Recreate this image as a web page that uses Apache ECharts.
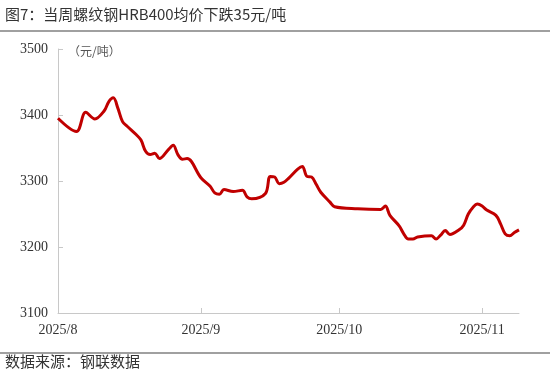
<!DOCTYPE html>
<html><head><meta charset="utf-8">
<script src="https://cdn.jsdelivr.net/npm/echarts@6/dist/echarts.min.js"></script>
<style>html,body{margin:0;padding:0;background:#fff}#c{width:550px;height:381px}</style>
</head><body><div id="c"></div>
<script>
const dates = ['2025-08-01','2025-08-05','2025-08-07','2025-08-09','2025-08-11','2025-08-12','2025-08-13','2025-08-14','2025-08-15','2025-08-16','2025-08-18','2025-08-19','2025-08-20','2025-08-21','2025-08-22','2025-08-23','2025-08-25','2025-08-26','2025-08-27','2025-08-28','2025-08-29',
'2025-09-01','2025-09-03','2025-09-04','2025-09-05','2025-09-06','2025-09-08','2025-09-10','2025-09-11','2025-09-12','2025-09-15','2025-09-16','2025-09-17','2025-09-18','2025-09-19','2025-09-20','2025-09-22','2025-09-23','2025-09-24','2025-09-25','2025-09-26','2025-09-27','2025-09-29','2025-09-30',
'2025-10-05','2025-10-10','2025-10-11','2025-10-12','2025-10-14','2025-10-15','2025-10-16','2025-10-17','2025-10-18','2025-10-21','2025-10-22','2025-10-23','2025-10-24','2025-10-25','2025-10-27','2025-10-28','2025-10-29','2025-10-30','2025-10-31',
'2025-11-01','2025-11-02','2025-11-04','2025-11-05','2025-11-06','2025-11-07','2025-11-08','2025-11-09'];
const prices = [3395,3375,3404,3394,3406,3420,3426,3410,3390,3383,3370,3362,3345,3340,3342,3334,3348,3354,3340,3333,3334,
3305,3292,3282,3280,3287,3284,3286,3276,3273,3281,3307,3306,3296,3298,3304,3318,3322,3307,3306,3295,3283,3268,3261,
3258,3257,3262,3248,3232,3220,3212,3212,3215,3217,3212,3218,3225,3219,3226,3233,3250,3260,3265,
3262,3256,3248,3235,3220,3217,3222,3226];
const monthTicks = ['2025-08-01','2025-09-01','2025-10-01','2025-11-01'];
const yMin = 3100, yMax = 3500, yStep = 100;
const titleText = '图7：当周螺纹钢HRB400均价下跌35元/吨';
const unitText = '（元/吨）';
const sourceText = '数据来源：钢联数据';

const ts = s => Date.UTC(+s.slice(0,4), +s.slice(5,7) - 1, +s.slice(8,10));
const tickVals = monthTicks.map(ts);
const chart = echarts.init(document.getElementById('c'));
const serif = '"Liberation Serif","Times New Roman",serif';
const cjk = '"Noto Sans CJK SC",sans-serif';
chart.setOption({
  animation: false,
  grid: {left: 58, right: 31, top: 49, bottom: 68},
  xAxis: {
    type: 'value',
    min: ts('2025-08-01'), max: ts('2025-11-09'),
    axisLine: {lineStyle: {color: '#c8c8c8', width: 1}},
    axisTick: {show: true, inside: true, length: 5, lineStyle: {color: '#c8c8c8'}, customValues: tickVals},
    axisLabel: {customValues: tickVals, color: '#333', fontFamily: serif, fontSize: 14, margin: 10,
      formatter: v => { const d = new Date(v); return d.getUTCFullYear() + '/' + (d.getUTCMonth() + 1); }},
    splitLine: {show: false}
  },
  yAxis: {
    type: 'value', min: yMin, max: yMax, interval: yStep,
    axisLine: {show: true, lineStyle: {color: '#c8c8c8', width: 1}},
    axisTick: {show: true, inside: true, length: 5, lineStyle: {color: '#c8c8c8'}},
    axisLabel: {color: '#333', fontFamily: serif, fontSize: 14, margin: 10, formatter: v => String(v)},
    splitLine: {show: false}
  },
  series: [{
    type: 'line', data: dates.map((d, i) => [ts(d), prices[i]]),
    showSymbol: false, smooth: 0.35,
    lineStyle: {color: '#c00000', width: 3},
    itemStyle: {color: '#c00000'}
  }],
  graphic: [
    {type: 'text', left: 5, top: 7, style: {text: titleText, font: '15px ' + cjk, fill: '#333'}},
    {type: 'line', shape: {x1: 0, y1: 31, x2: 550, y2: 31}, style: {stroke: '#808080', lineWidth: 1.5}},
    {type: 'text', left: 68, top: 45, style: {text: unitText, font: '12px ' + cjk, fill: '#555'}},
    {type: 'line', shape: {x1: 0, y1: 353, x2: 550, y2: 353}, style: {stroke: '#808080', lineWidth: 1.5}},
    {type: 'text', left: 5, top: 354, style: {text: sourceText, font: '15px ' + cjk, fill: '#333'}}
  ]
});
</script></body></html>
